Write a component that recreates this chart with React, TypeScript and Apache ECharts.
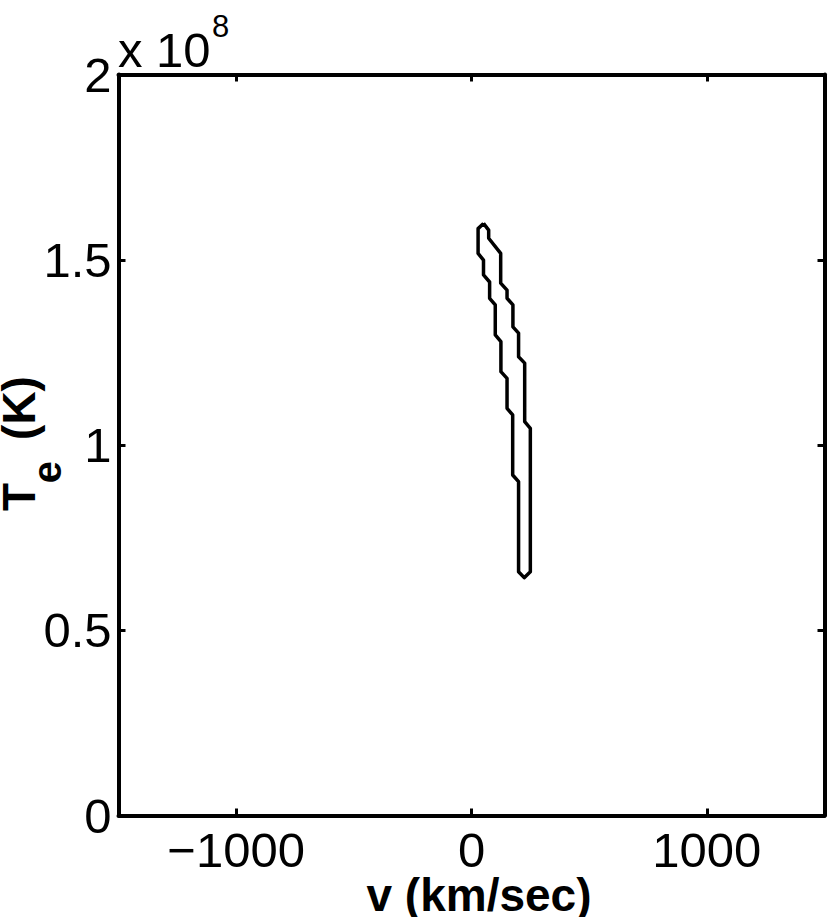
import React, { useEffect, useRef } from "react";
import * as echarts from "echarts";

// Contour outline (closed), velocity in km/sec, electron temperature in units of 1e8 K
const contourV = [
  51, 28, 28, 51, 51, 77, 77, 101, 101, 125, 125, 151, 151, 175, 175, 200, 200, 224,
  250, 250, 226, 226, 200, 200, 176, 176, 151, 151, 124, 124, 73, 73, 51,
];
const contourTe = [
  1.598, 1.584, 1.517, 1.499, 1.459, 1.44, 1.396, 1.378, 1.297, 1.279, 1.198, 1.18,
  1.099, 1.081, 0.919, 0.901, 0.658, 0.642, 0.658, 1.045, 1.063, 1.221, 1.238, 1.302,
  1.319, 1.378, 1.396, 1.418, 1.437, 1.517, 1.558, 1.58, 1.598,
];
const xTicks = [-1000, 0, 1000];
const yTicks = [0, 0.5, 1, 1.5, 2];
const xRange = [-1500, 1500];
const yRange = [0, 2];

const FONT = "Liberation Sans, Arial, Helvetica, sans-serif";

export default function App() {
  const ref = useRef<HTMLDivElement>(null);
  useEffect(() => {
    if (!ref.current) return;
    const chart = echarts.init(ref.current, undefined, { renderer: "svg" });
    const data = contourV.map((v, i) => [v, contourTe[i]]);
    const axisLine = { show: true, onZero: false, lineStyle: { color: "#000", width: 4 } };
    const tick = { show: true, inside: true, length: 7, lineStyle: { color: "#000", width: 3 } };
    chart.setOption({
      animation: false,
      backgroundColor: "#fff",
      grid: { left: 118.5, right: 5.5, top: 74.5, bottom: 101.5, containLabel: false },
      xAxis: [
        {
          type: "value",
          position: "bottom",
          min: xRange[0],
          max: xRange[1],
          axisLine,
          axisTick: { ...tick, customValues: xTicks },
          splitLine: { show: false },
          axisLabel: {
            customValues: xTicks,
            fontFamily: FONT,
            fontSize: 49,
            color: "#000",
            margin: 10,
            formatter: (v: number) => String(v).replace("-", "\u2212"),
          },
        },
        {
          type: "value",
          position: "top",
          min: xRange[0],
          max: xRange[1],
          axisLine,
          axisTick: { ...tick, customValues: xTicks },
          splitLine: { show: false },
          axisLabel: { show: false },
        },
      ],
      yAxis: [
        {
          type: "value",
          position: "left",
          min: yRange[0],
          max: yRange[1],
          interval: 0.5,
          axisLine,
          axisTick: { ...tick, customValues: yTicks },
          splitLine: { show: false },
          axisLabel: {
            customValues: yTicks,
            fontFamily: FONT,
            fontSize: 49,
            color: "#000",
            margin: 7,
          },
        },
        {
          type: "value",
          position: "right",
          min: yRange[0],
          max: yRange[1],
          interval: 0.5,
          axisLine,
          axisTick: { ...tick, customValues: yTicks },
          splitLine: { show: false },
          axisLabel: { show: false },
        },
      ],
      series: [
        {
          type: "line",
          data,
          xAxisIndex: 0,
          yAxisIndex: 0,
          showSymbol: false,
          symbol: "none",
          lineStyle: { color: "#000", width: 3.5, join: "round" },
          silent: true,
        },
      ],
      graphic: [
        {
          type: "text",
          x: 118,
          y: 50,
          style: { text: "x 10", font: `49px ${FONT}`, fill: "#000", align: "left", verticalAlign: "middle" },
        },
        {
          type: "text",
          x: 212,
          y: 26,
          style: { text: "8", font: `31px ${FONT}`, fill: "#000", align: "left", verticalAlign: "middle" },
        },
        {
          type: "text",
          x: 479,
          y: 895,
          style: { text: "v (km/sec)", font: `bold 46px ${FONT}`, fill: "#000", align: "center", verticalAlign: "middle" },
        },
        {
          type: "text",
          x: 19,
          y: 497,
          rotation: Math.PI / 2,
          style: { text: "T", font: `bold 46px ${FONT}`, fill: "#000", align: "center", verticalAlign: "middle" },
        },
        {
          type: "text",
          x: 47,
          y: 472,
          rotation: Math.PI / 2,
          style: { text: "e", font: `bold 40px ${FONT}`, fill: "#000", align: "center", verticalAlign: "middle" },
        },
        {
          type: "text",
          x: 19,
          y: 408,
          rotation: Math.PI / 2,
          style: { text: "(K)", font: `bold 46px ${FONT}`, fill: "#000", align: "center", verticalAlign: "middle" },
        },
      ],
    });
    return () => chart.dispose();
  }, []);
  return (
    <div
      ref={ref}
      style={{ position: "fixed", left: 0, top: 0, width: 830, height: 917, background: "#fff" }}
    />
  );
}
